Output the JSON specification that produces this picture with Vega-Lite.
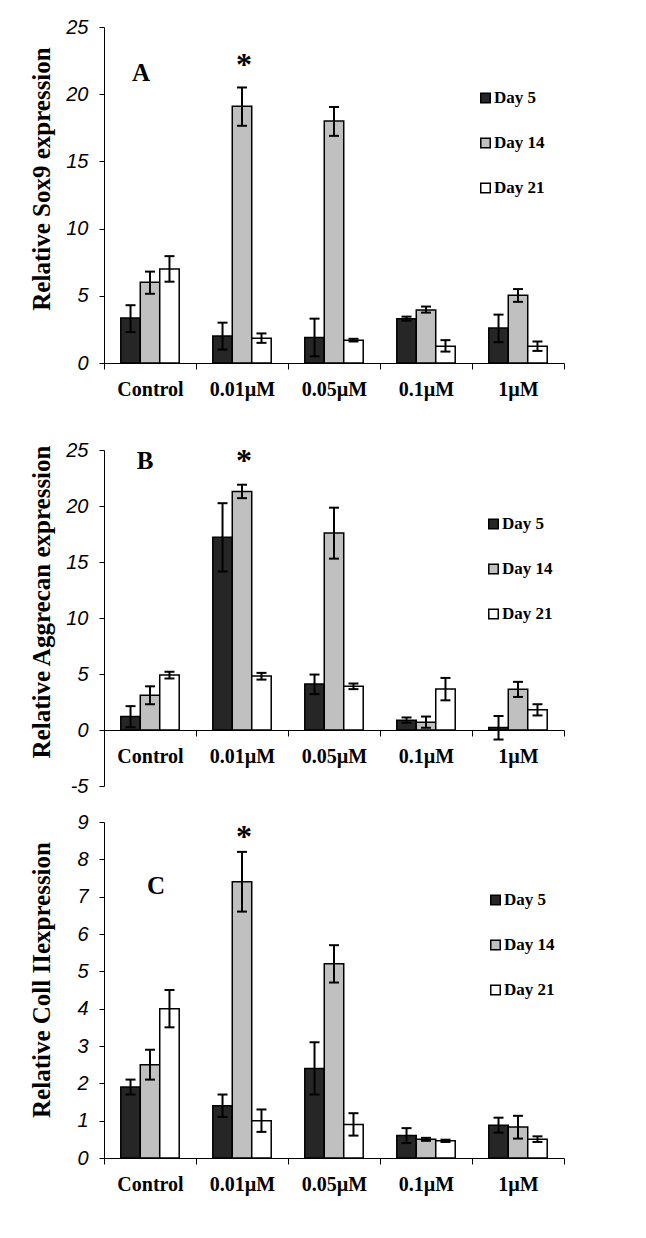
{
  "$schema": "https://vega.github.io/schema/vega-lite/v6.json",
  "autosize": {"type": "none"},
  "padding": {"left": 104, "top": 27, "right": 542, "bottom": 1211},
  "background": "white",
  "datasets": {
    "bars": [
      {"panel": "A", "conc": "Control", "day": "Day 5", "value": 3.35, "lo": 2.3, "hi": 4.3},
      {"panel": "A", "conc": "Control", "day": "Day 14", "value": 6.0, "lo": 5.15, "hi": 6.8},
      {"panel": "A", "conc": "Control", "day": "Day 21", "value": 7.0, "lo": 6.05, "hi": 7.95},
      {"panel": "A", "conc": "0.01µM", "day": "Day 5", "value": 2.0, "lo": 1.0, "hi": 3.0},
      {"panel": "A", "conc": "0.01µM", "day": "Day 14", "value": 19.1, "lo": 17.65, "hi": 20.5},
      {"panel": "A", "conc": "0.01µM", "day": "Day 21", "value": 1.85, "lo": 1.5, "hi": 2.2},
      {"panel": "A", "conc": "0.05µM", "day": "Day 5", "value": 1.9, "lo": 0.5, "hi": 3.3},
      {"panel": "A", "conc": "0.05µM", "day": "Day 14", "value": 18.0, "lo": 16.9, "hi": 19.05},
      {"panel": "A", "conc": "0.05µM", "day": "Day 21", "value": 1.7, "lo": 1.6, "hi": 1.8},
      {"panel": "A", "conc": "0.1µM", "day": "Day 5", "value": 3.3, "lo": 3.15, "hi": 3.45},
      {"panel": "A", "conc": "0.1µM", "day": "Day 14", "value": 3.95, "lo": 3.75, "hi": 4.2},
      {"panel": "A", "conc": "0.1µM", "day": "Day 21", "value": 1.25, "lo": 0.85, "hi": 1.7},
      {"panel": "A", "conc": "1µM", "day": "Day 5", "value": 2.6, "lo": 1.55, "hi": 3.6},
      {"panel": "A", "conc": "1µM", "day": "Day 14", "value": 5.05, "lo": 4.55, "hi": 5.5},
      {"panel": "A", "conc": "1µM", "day": "Day 21", "value": 1.25, "lo": 0.9, "hi": 1.6},
      {"panel": "B", "conc": "Control", "day": "Day 5", "value": 1.2, "lo": 0.25, "hi": 2.13},
      {"panel": "B", "conc": "Control", "day": "Day 14", "value": 3.1, "lo": 2.3, "hi": 3.9},
      {"panel": "B", "conc": "Control", "day": "Day 21", "value": 4.9, "lo": 4.6, "hi": 5.2},
      {"panel": "B", "conc": "0.01µM", "day": "Day 5", "value": 17.2, "lo": 14.15, "hi": 20.25},
      {"panel": "B", "conc": "0.01µM", "day": "Day 14", "value": 21.3, "lo": 20.7, "hi": 21.9},
      {"panel": "B", "conc": "0.01µM", "day": "Day 21", "value": 4.82, "lo": 4.5, "hi": 5.1},
      {"panel": "B", "conc": "0.05µM", "day": "Day 5", "value": 4.1, "lo": 3.2, "hi": 4.95},
      {"panel": "B", "conc": "0.05µM", "day": "Day 14", "value": 17.6, "lo": 15.3, "hi": 19.85},
      {"panel": "B", "conc": "0.05µM", "day": "Day 21", "value": 3.9, "lo": 3.65, "hi": 4.15},
      {"panel": "B", "conc": "0.1µM", "day": "Day 5", "value": 0.88, "lo": 0.65, "hi": 1.12},
      {"panel": "B", "conc": "0.1µM", "day": "Day 14", "value": 0.7, "lo": 0.2, "hi": 1.2},
      {"panel": "B", "conc": "0.1µM", "day": "Day 21", "value": 3.65, "lo": 2.65, "hi": 4.65},
      {"panel": "B", "conc": "1µM", "day": "Day 5", "value": 0.22, "lo": -0.85, "hi": 1.25},
      {"panel": "B", "conc": "1µM", "day": "Day 14", "value": 3.63, "lo": 2.95, "hi": 4.3},
      {"panel": "B", "conc": "1µM", "day": "Day 21", "value": 1.8, "lo": 1.3, "hi": 2.3},
      {"panel": "C", "conc": "Control", "day": "Day 5", "value": 1.9, "lo": 1.7, "hi": 2.1},
      {"panel": "C", "conc": "Control", "day": "Day 14", "value": 2.5, "lo": 2.1, "hi": 2.9},
      {"panel": "C", "conc": "Control", "day": "Day 21", "value": 4.0, "lo": 3.5, "hi": 4.5},
      {"panel": "C", "conc": "0.01µM", "day": "Day 5", "value": 1.4, "lo": 1.1, "hi": 1.7},
      {"panel": "C", "conc": "0.01µM", "day": "Day 14", "value": 7.4, "lo": 6.6, "hi": 8.2},
      {"panel": "C", "conc": "0.01µM", "day": "Day 21", "value": 1.0, "lo": 0.7, "hi": 1.3},
      {"panel": "C", "conc": "0.05µM", "day": "Day 5", "value": 2.4, "lo": 1.7, "hi": 3.1},
      {"panel": "C", "conc": "0.05µM", "day": "Day 14", "value": 5.2, "lo": 4.7, "hi": 5.7},
      {"panel": "C", "conc": "0.05µM", "day": "Day 21", "value": 0.9, "lo": 0.6, "hi": 1.2},
      {"panel": "C", "conc": "0.1µM", "day": "Day 5", "value": 0.6, "lo": 0.4, "hi": 0.8},
      {"panel": "C", "conc": "0.1µM", "day": "Day 14", "value": 0.5, "lo": 0.46, "hi": 0.54},
      {"panel": "C", "conc": "0.1µM", "day": "Day 21", "value": 0.46, "lo": 0.43, "hi": 0.49},
      {"panel": "C", "conc": "1µM", "day": "Day 5", "value": 0.88, "lo": 0.68, "hi": 1.08},
      {"panel": "C", "conc": "1µM", "day": "Day 14", "value": 0.83, "lo": 0.52, "hi": 1.13},
      {"panel": "C", "conc": "1µM", "day": "Day 21", "value": 0.5, "lo": 0.43, "hi": 0.58}
    ],
    "notes": [
      {"panel": "A", "kind": "letter", "conc": "Control", "day": "Day 14", "pos": 21.0, "text": "A"},
      {"panel": "A", "kind": "star", "conc": "0.01µM", "day": "Day 14", "pos": 21.4, "text": "*"},
      {"panel": "B", "kind": "letter", "conc": "Control", "day": "Day 14", "pos": 23.3, "text": "B"},
      {"panel": "B", "kind": "star", "conc": "0.01µM", "day": "Day 14", "pos": 23.1, "text": "*"},
      {"panel": "C", "kind": "letter", "conc": "Control", "day": "Day 14", "pos": 7.07, "text": "C"},
      {"panel": "C", "kind": "star", "conc": "0.01µM", "day": "Day 14", "pos": 8.33, "text": "*"}
    ]
  },
  "config": {
    "view": {"stroke": null},
    "axis": {"grid": false, "domainColor": "black", "tickColor": "black", "labelColor": "black", "titleColor": "black", "domainWidth": 1, "tickWidth": 1},
    "axisX": {"labelFont": "Liberation Serif", "labelFontWeight": "bold", "labelFontSize": 20, "tickSize": 6, "labelPadding": 10, "labelAngle": 0},
    "axisY": {"labelFont": "Liberation Sans", "labelFontStyle": "italic", "labelFontSize": 20, "tickSize": 5, "labelPadding": 11, "labelOverlap": false, "labelExpr": "datum.value < 0 ? '-' + abs(datum.value) : datum.label", "titleFont": "Liberation Serif", "titleFontWeight": "bold", "titleFontSize": 25, "titleX": -50, "titleBaseline": "bottom", "titleAngle": -90},
    "legend": {"orient": "none", "labelFont": "Liberation Serif", "labelFontWeight": "bold", "labelFontSize": 17, "labelColor": "black", "symbolType": "square", "symbolSize": 90, "symbolStrokeColor": "black", "symbolStrokeWidth": 1.5, "symbolOpacity": 1, "rowPadding": 27, "labelOffset": 0, "padding": 0}
  },
  "bounds": "flush",
  "spacing": 87,
  "resolve": {"legend": {"fill": "independent"}},
  "vconcat": [
    {
      "width": 460, "height": 336,
      "layer": [
        {
          "data": {"name": "bars"},
          "transform": [{"filter": "datum.panel === 'A'"}],
          "mark": {"type": "bar", "stroke": "black", "strokeWidth": 1.5},
          "encoding": {
            "x": {"field": "conc", "type": "nominal", "scale": {"domain": ["Control", "0.01µM", "0.05µM", "0.1µM", "1µM"], "paddingInner": 0, "paddingOuter": 0}, "axis": {"title": null, "tickBand": "extent"}},
            "xOffset": {"field": "day", "type": "nominal", "scale": {"domain": ["Day 5", "Day 14", "Day 21"], "paddingInner": 0, "paddingOuter": 0.862}},
            "y": {"field": "value", "type": "quantitative", "title": "Relative Sox9 expression", "scale": {"domain": [0, 25], "nice": false}, "axis": {"values": [0, 5, 10, 15, 20, 25], "titleY": 151.5}},
            "fill": {"field": "day", "type": "nominal", "scale": {"domain": ["Day 5", "Day 14", "Day 21"], "range": ["#262626", "#c0c0c0", "#ffffff"]}, "legend": {"title": null, "legendX": 373, "legendY": 62.5}}
          }
        },
        {
          "data": {"name": "bars"},
          "transform": [{"filter": "datum.panel === 'A'"}],
          "mark": {"type": "rule", "color": "black", "strokeWidth": 2},
          "encoding": {
            "x": {"field": "conc", "type": "nominal"},
            "xOffset": {"field": "day", "type": "nominal"},
            "y": {"field": "lo", "type": "quantitative", "title": "Relative Sox9 expression", "axis": {"values": [0, 5, 10, 15, 20, 25], "titleY": 151.5}},
            "y2": {"field": "hi"}
          }
        },
        {
          "data": {"name": "bars"},
          "transform": [{"filter": "datum.panel === 'A'"}],
          "mark": {"type": "tick", "color": "black", "size": 10, "thickness": 2, "opacity": 1},
          "encoding": {
            "x": {"field": "conc", "type": "nominal"},
            "xOffset": {"field": "day", "type": "nominal"},
            "y": {"field": "lo", "type": "quantitative", "title": "Relative Sox9 expression", "axis": {"values": [0, 5, 10, 15, 20, 25], "titleY": 151.5}}
          }
        },
        {
          "data": {"name": "bars"},
          "transform": [{"filter": "datum.panel === 'A'"}],
          "mark": {"type": "tick", "color": "black", "size": 10, "thickness": 2, "opacity": 1},
          "encoding": {
            "x": {"field": "conc", "type": "nominal"},
            "xOffset": {"field": "day", "type": "nominal"},
            "y": {"field": "hi", "type": "quantitative", "title": "Relative Sox9 expression", "axis": {"values": [0, 5, 10, 15, 20, 25], "titleY": 151.5}}
          }
        },
        {
          "data": {"name": "notes"},
          "transform": [{"filter": "datum.panel === 'A' && datum.kind === 'letter'"}],
          "mark": {"type": "text", "font": "Liberation Serif", "fontWeight": "bold", "fontSize": 25, "baseline": "alphabetic", "align": "center", "dx": -9, "color": "black"},
          "encoding": {
            "x": {"field": "conc", "type": "nominal"},
            "y": {"field": "pos", "type": "quantitative", "title": "Relative Sox9 expression", "axis": {"values": [0, 5, 10, 15, 20, 25], "titleY": 151.5}},
            "text": {"field": "text"}
          }
        },
        {
          "data": {"name": "notes"},
          "transform": [{"filter": "datum.panel === 'A' && datum.kind === 'star'"}],
          "mark": {"type": "text", "font": "Liberation Serif", "fontWeight": "bold", "fontSize": 32, "baseline": "alphabetic", "align": "center", "dx": 2, "color": "black"},
          "encoding": {
            "x": {"field": "conc", "type": "nominal"},
            "xOffset": {"field": "day", "type": "nominal"},
            "y": {"field": "pos", "type": "quantitative", "title": "Relative Sox9 expression", "axis": {"values": [0, 5, 10, 15, 20, 25], "titleY": 151.5}},
            "text": {"field": "text"}
          }
        }
      ]
    },
    {
      "bounds": "flush",
      "spacing": 36,
      "resolve": {"legend": {"fill": "independent"}},
      "vconcat": [
        {
          "width": 460, "height": 336,
          "layer": [
            {
              "data": {"name": "bars"},
              "transform": [{"filter": "datum.panel === 'B'"}],
              "mark": {"type": "bar", "stroke": "black", "strokeWidth": 1.5},
              "encoding": {
                "x": {"field": "conc", "type": "nominal", "scale": {"domain": ["Control", "0.01µM", "0.05µM", "0.1µM", "1µM"], "paddingInner": 0, "paddingOuter": 0}, "axis": {"title": null, "tickBand": "extent", "offset": -56}},
                "xOffset": {"field": "day", "type": "nominal", "scale": {"domain": ["Day 5", "Day 14", "Day 21"], "paddingInner": 0, "paddingOuter": 0.862}},
                "y": {"field": "value", "type": "quantitative", "title": "Relative Aggrecan expression", "scale": {"domain": [-5, 25], "nice": false}, "axis": {"values": [-5, 0, 5, 10, 15, 20, 25], "titleY": 151.5}},
                "fill": {"field": "day", "type": "nominal", "scale": {"domain": ["Day 5", "Day 14", "Day 21"], "range": ["#262626", "#c0c0c0", "#ffffff"]}, "legend": {"title": null, "legendX": 381, "legendY": 65.5}}
              }
            },
            {
              "data": {"name": "bars"},
              "transform": [{"filter": "datum.panel === 'B'"}],
              "mark": {"type": "rule", "color": "black", "strokeWidth": 2},
              "encoding": {
                "x": {"field": "conc", "type": "nominal"},
                "xOffset": {"field": "day", "type": "nominal"},
                "y": {"field": "lo", "type": "quantitative", "title": "Relative Aggrecan expression", "axis": {"values": [-5, 0, 5, 10, 15, 20, 25], "titleY": 151.5}},
                "y2": {"field": "hi"}
              }
            },
            {
              "data": {"name": "bars"},
              "transform": [{"filter": "datum.panel === 'B'"}],
              "mark": {"type": "tick", "color": "black", "size": 10, "thickness": 2, "opacity": 1},
              "encoding": {
                "x": {"field": "conc", "type": "nominal"},
                "xOffset": {"field": "day", "type": "nominal"},
                "y": {"field": "lo", "type": "quantitative", "title": "Relative Aggrecan expression", "axis": {"values": [-5, 0, 5, 10, 15, 20, 25], "titleY": 151.5}}
              }
            },
            {
              "data": {"name": "bars"},
              "transform": [{"filter": "datum.panel === 'B'"}],
              "mark": {"type": "tick", "color": "black", "size": 10, "thickness": 2, "opacity": 1},
              "encoding": {
                "x": {"field": "conc", "type": "nominal"},
                "xOffset": {"field": "day", "type": "nominal"},
                "y": {"field": "hi", "type": "quantitative", "title": "Relative Aggrecan expression", "axis": {"values": [-5, 0, 5, 10, 15, 20, 25], "titleY": 151.5}}
              }
            },
            {
              "data": {"name": "notes"},
              "transform": [{"filter": "datum.panel === 'B' && datum.kind === 'letter'"}],
              "mark": {"type": "text", "font": "Liberation Serif", "fontWeight": "bold", "fontSize": 25, "baseline": "alphabetic", "align": "center", "dx": -5, "color": "black"},
              "encoding": {
                "x": {"field": "conc", "type": "nominal"},
                "y": {"field": "pos", "type": "quantitative", "title": "Relative Aggrecan expression", "axis": {"values": [-5, 0, 5, 10, 15, 20, 25], "titleY": 151.5}},
                "text": {"field": "text"}
              }
            },
            {
              "data": {"name": "notes"},
              "transform": [{"filter": "datum.panel === 'B' && datum.kind === 'star'"}],
              "mark": {"type": "text", "font": "Liberation Serif", "fontWeight": "bold", "fontSize": 32, "baseline": "alphabetic", "align": "center", "dx": 2, "color": "black"},
              "encoding": {
                "x": {"field": "conc", "type": "nominal"},
                "xOffset": {"field": "day", "type": "nominal"},
                "y": {"field": "pos", "type": "quantitative", "title": "Relative Aggrecan expression", "axis": {"values": [-5, 0, 5, 10, 15, 20, 25], "titleY": 151.5}},
                "text": {"field": "text"}
              }
            }
          ]
        },
        {
          "width": 460, "height": 336,
          "layer": [
            {
              "data": {"name": "bars"},
              "transform": [{"filter": "datum.panel === 'C'"}],
              "mark": {"type": "bar", "stroke": "black", "strokeWidth": 1.5},
              "encoding": {
                "x": {"field": "conc", "type": "nominal", "scale": {"domain": ["Control", "0.01µM", "0.05µM", "0.1µM", "1µM"], "paddingInner": 0, "paddingOuter": 0}, "axis": {"title": null, "tickBand": "extent"}},
                "xOffset": {"field": "day", "type": "nominal", "scale": {"domain": ["Day 5", "Day 14", "Day 21"], "paddingInner": 0, "paddingOuter": 0.862}},
                "y": {"field": "value", "type": "quantitative", "title": "Relative Coll IIexpression", "scale": {"domain": [0, 9], "nice": false}, "axis": {"values": [0, 1, 2, 3, 4, 5, 6, 7, 8, 9], "titleY": 157.5}},
                "fill": {"field": "day", "type": "nominal", "scale": {"domain": ["Day 5", "Day 14", "Day 21"], "range": ["#262626", "#c0c0c0", "#ffffff"]}, "legend": {"title": null, "legendX": 383, "legendY": 69.5}}
              }
            },
            {
              "data": {"name": "bars"},
              "transform": [{"filter": "datum.panel === 'C'"}],
              "mark": {"type": "rule", "color": "black", "strokeWidth": 2},
              "encoding": {
                "x": {"field": "conc", "type": "nominal"},
                "xOffset": {"field": "day", "type": "nominal"},
                "y": {"field": "lo", "type": "quantitative", "title": "Relative Coll IIexpression", "axis": {"values": [0, 1, 2, 3, 4, 5, 6, 7, 8, 9], "titleY": 157.5}},
                "y2": {"field": "hi"}
              }
            },
            {
              "data": {"name": "bars"},
              "transform": [{"filter": "datum.panel === 'C'"}],
              "mark": {"type": "tick", "color": "black", "size": 10, "thickness": 2, "opacity": 1},
              "encoding": {
                "x": {"field": "conc", "type": "nominal"},
                "xOffset": {"field": "day", "type": "nominal"},
                "y": {"field": "lo", "type": "quantitative", "title": "Relative Coll IIexpression", "axis": {"values": [0, 1, 2, 3, 4, 5, 6, 7, 8, 9], "titleY": 157.5}}
              }
            },
            {
              "data": {"name": "bars"},
              "transform": [{"filter": "datum.panel === 'C'"}],
              "mark": {"type": "tick", "color": "black", "size": 10, "thickness": 2, "opacity": 1},
              "encoding": {
                "x": {"field": "conc", "type": "nominal"},
                "xOffset": {"field": "day", "type": "nominal"},
                "y": {"field": "hi", "type": "quantitative", "title": "Relative Coll IIexpression", "axis": {"values": [0, 1, 2, 3, 4, 5, 6, 7, 8, 9], "titleY": 157.5}}
              }
            },
            {
              "data": {"name": "notes"},
              "transform": [{"filter": "datum.panel === 'C' && datum.kind === 'letter'"}],
              "mark": {"type": "text", "font": "Liberation Serif", "fontWeight": "bold", "fontSize": 25, "baseline": "alphabetic", "align": "center", "dx": 6, "color": "black"},
              "encoding": {
                "x": {"field": "conc", "type": "nominal"},
                "y": {"field": "pos", "type": "quantitative", "title": "Relative Coll IIexpression", "axis": {"values": [0, 1, 2, 3, 4, 5, 6, 7, 8, 9], "titleY": 157.5}},
                "text": {"field": "text"}
              }
            },
            {
              "data": {"name": "notes"},
              "transform": [{"filter": "datum.panel === 'C' && datum.kind === 'star'"}],
              "mark": {"type": "text", "font": "Liberation Serif", "fontWeight": "bold", "fontSize": 32, "baseline": "alphabetic", "align": "center", "dx": 2, "color": "black"},
              "encoding": {
                "x": {"field": "conc", "type": "nominal"},
                "xOffset": {"field": "day", "type": "nominal"},
                "y": {"field": "pos", "type": "quantitative", "title": "Relative Coll IIexpression", "axis": {"values": [0, 1, 2, 3, 4, 5, 6, 7, 8, 9], "titleY": 157.5}},
                "text": {"field": "text"}
              }
            }
          ]
        }
      ]
    }
  ]
}
